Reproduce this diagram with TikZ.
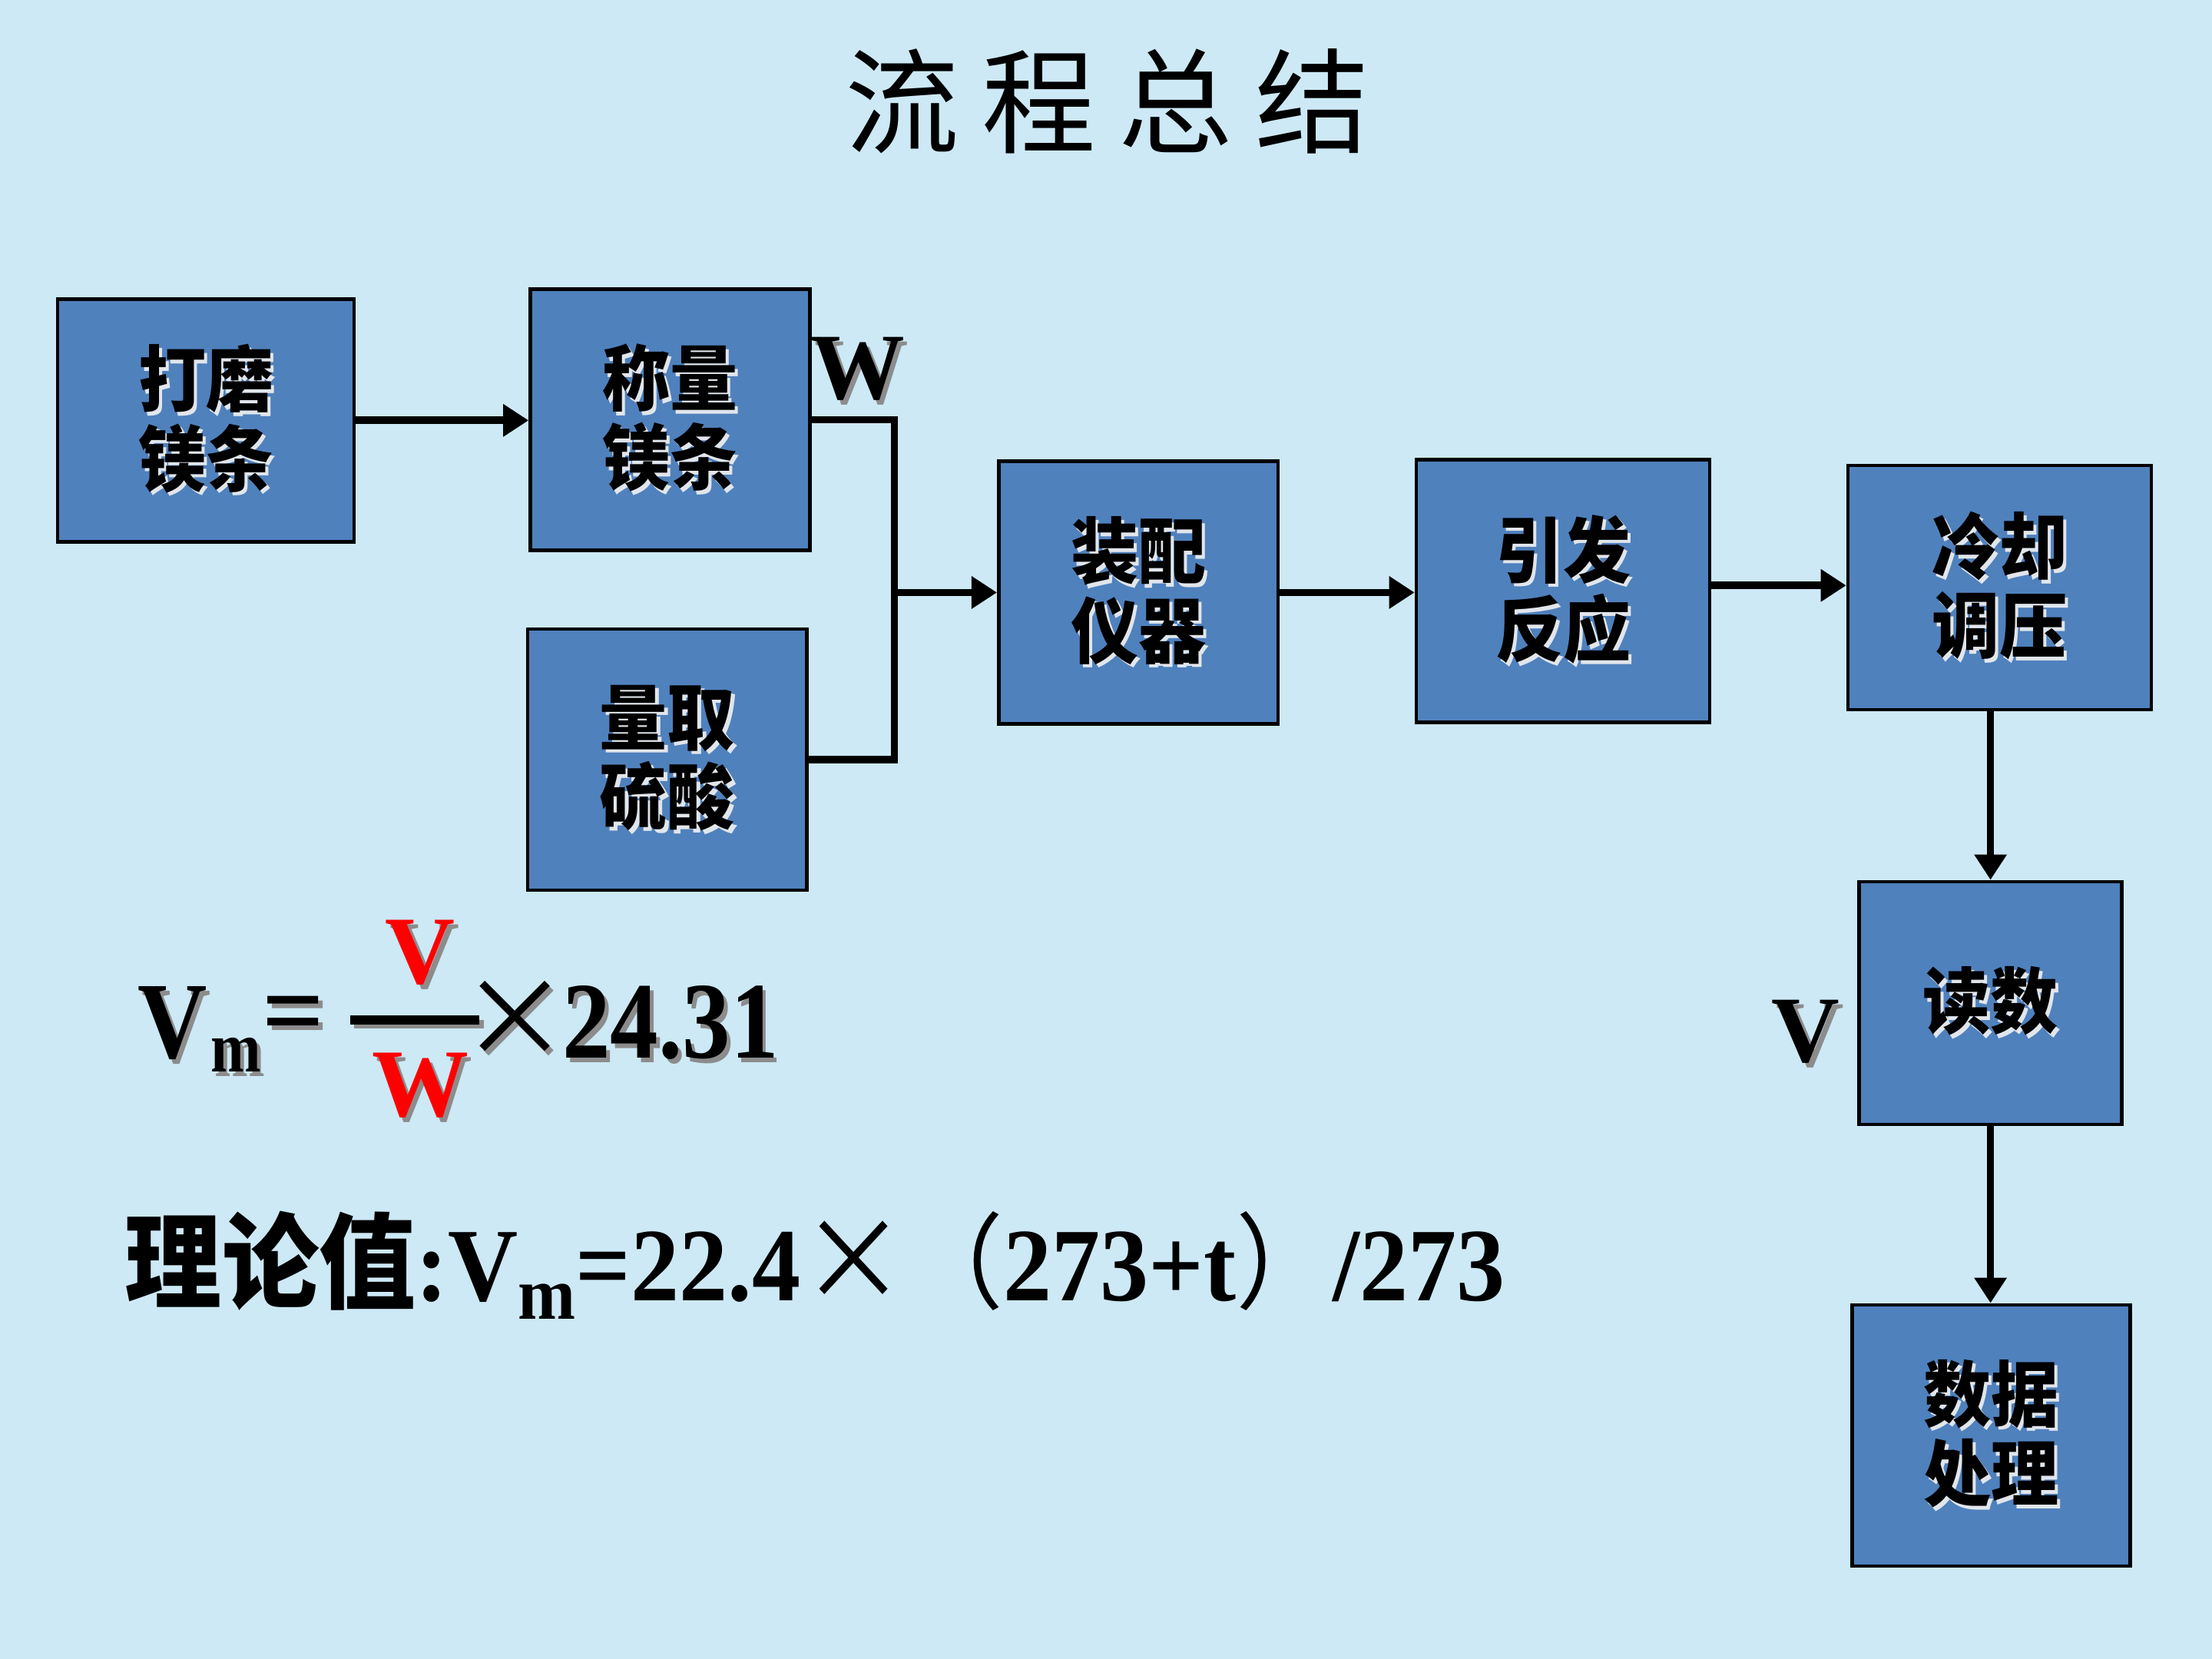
\documentclass[tikz,border=0pt]{standalone}
\usepackage{graphicx}
\usepackage{fontspec}
\setmainfont{Liberation Serif}
\newfontfamily\cjk{Noto Sans CJK SC}
\usetikzlibrary{arrows.meta}
\definecolor{bgblue}{RGB}{205,233,245}
\definecolor{boxblue}{RGB}{79,129,189}
\definecolor{shgray}{RGB}{140,140,140}
\definecolor{shlight}{RGB}{225,230,236}
\definecolor{fred}{RGB}{255,0,0}
\newcommand\shg[1]{\makebox[0pt][l]{\kern0.03cm\raisebox{-0.03cm}{\textcolor{shgray}{#1}}}#1}
\newcommand\shl[1]{\makebox[0pt][l]{\kern0.025cm\raisebox{-0.025cm}{\textcolor{shlight}{#1}}}#1}
\newcommand\sq[1]{\scalebox{0.88}[1]{#1}}
\newcommand\bx[1]{\scalebox{0.94}[1]{\shl{#1}}}
\newcommand\boxfont{\cjk\bfseries\fontsize{14.5}{16}\selectfont}
\begin{document}
\begin{tikzpicture}[x=0.01cm,y=-0.01cm,
  stepbox/.style={draw=black,line width=0.7pt,fill=boxblue,inner sep=0pt,align=center,font=\boxfont},
  arr/.style={line width=1.5pt,-{Triangle[length=0.18cm,width=0.22cm]}},
  conn/.style={line width=1.5pt},
  lbl/.style={inner sep=0pt,font=\bfseries\fontsize{19}{19}\selectfont},
  ftxt/.style={inner sep=0pt,font=\bfseries\fontsize{22}{22}\selectfont}]
\fill[bgblue] (0,0) rectangle (1568,1176);
\useasboundingbox (0,0) rectangle (1568,1176);

% title
\node[inner sep=0pt,font=\cjk\fontsize{23}{23}\selectfont] (title) at (785,72)
  {流\hspace{0.16cm}程\hspace{0.16cm}总\hspace{0.16cm}结};

% boxes
\node[stepbox,minimum width=2.10cm,minimum height=1.72cm] (b1) at (146,298) {\bx{打磨}\\\bx{镁条}};
\node[stepbox,minimum width=1.98cm,minimum height=1.85cm] (b2) at (475,297.5) {\bx{称量}\\\bx{镁条}};
\node[stepbox,minimum width=1.98cm,minimum height=1.85cm] (b3) at (473,538.5) {\bx{量取}\\\bx{硫酸}};
\node[stepbox,minimum width=1.98cm,minimum height=1.86cm] (b4) at (807,420) {\bx{装配}\\\bx{仪器}};
\node[stepbox,minimum width=2.08cm,minimum height=1.86cm] (b5) at (1108,419) {\bx{引发}\\\bx{反应}};
\node[stepbox,minimum width=2.15cm,minimum height=1.73cm] (b6) at (1417.5,416.5) {\bx{冷却}\\\bx{调压}};
\node[stepbox,minimum width=1.86cm,minimum height=1.72cm] (b7) at (1411,711) {\bx{读数}};
\node[stepbox,minimum width=1.97cm,minimum height=1.85cm] (b8) at (1411.5,1017.5) {\bx{数据}\\\bx{处理}};

% connectors
\draw[arr] (b1.east) -- (b1.east -| b2.west);
\coordinate (j) at (634,420);
\draw[conn] (b2.east) -| (j) |- (b3.east);
\draw[arr] (j) -- (j -| b4.west);
\draw[arr] (b4.east) -- (b4.east -| b5.west);
\draw[arr] (b5.east |- 0,415) -- (b6.west |- 0,415);
\draw[arr] (b7.north |- b6.south) -- (b7.north);
\draw[arr] (b7.south) -- (b7.south |- b8.north);

% labels
\node[lbl] (wl) at (608,263) {\shg{W}};
\node[lbl] (vl) at (1280,733) {\shg{V}};

% formula
\node[ftxt,anchor=base west] (fv) at (97,750) {\sq{\shg{V}}};
\node[inner sep=0pt,anchor=base west,font=\bfseries\fontsize{14.5}{14.5}\selectfont] (fm) at (149,760) {\scalebox{0.84}[1]{\shg{m}}};
\node[ftxt] (feq) at (208,726) {\shg{=}};
\node[inner sep=0pt,text=fred,font=\bfseries\fontsize{19.5}{19.5}\selectfont] (fnum) at (298,677) {\shg{V}};
\node[inner sep=0pt,text=fred,font=\bfseries\fontsize{19.5}{19.5}\selectfont] (fden) at (298,771) {\shg{W}};
\coordinate (bl) at (248,723);
\coordinate (br) at (340,723);
\draw[shgray,line width=1.8pt] ([shift={(3,3)}]bl) -- ([shift={(3,3)}]br);
\draw[line width=1.8pt] (bl) -- (br);
\node[inner sep=0pt,font=\cjk\fontsize{22}{22}\selectfont] (ftimes) at (365,724) {\shg{×}};
\node[ftxt,anchor=base west] (fval) at (398,750) {\sq{\shg{24.31}}};

% theoretical value
\node[inner sep=0pt,anchor=base west,font=\fontsize{21}{21}\selectfont] (theo) at (88,922)
  {\scalebox{0.93}[1]{{\cjk\bfseries 理论值}{\bfseries :V}\raisebox{-0.13cm}{\fontsize{15}{15}\selectfont\bfseries m}{\bfseries =22.4}{\cjk\fontsize{23}{23}\selectfont ×}{\cjk （}{\bfseries 273+t}{\cjk ）}{\bfseries /273}}};
\end{tikzpicture}
\end{document}
